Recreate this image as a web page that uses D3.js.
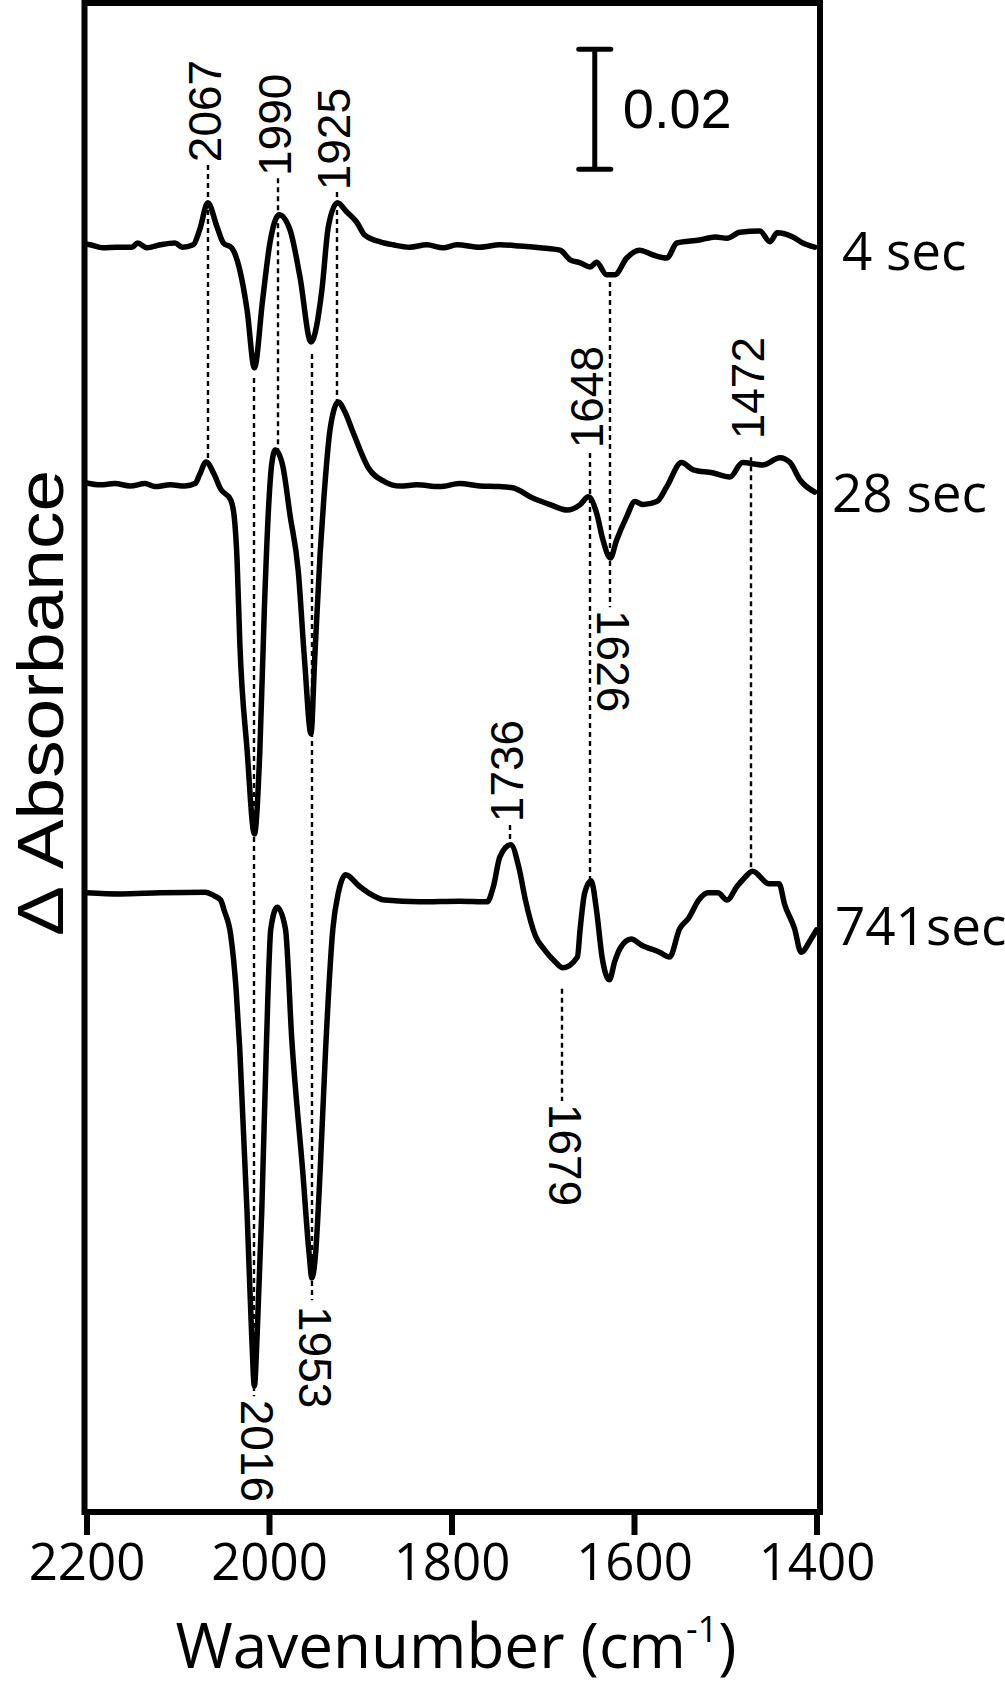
<!DOCTYPE html>
<html><head><meta charset="utf-8">
<script src="https://cdn.jsdelivr.net/npm/d3@7"></script>
<style>
html,body{margin:0;padding:0;background:#fff;}
svg{display:block;}
</style></head><body>
<svg id="chart" width="1005" height="1689"></svg>
<script>
// ---------- data ----------
const tickValues = [2200, 2000, 1800, 1600, 1400];
const seriesNames = ["4 sec", "28 sec", "741sec"];
const seriesOffsets = [0.108, 0.0682, 0];
const seriesLabelY = [0.104, 0.0637, -0.0085];

const wn4 = [2200,2196,2182,2167,2150,2144,2134,2119,2103,2095,2083,2076,2067,2057,2050,2041,2032,2024,2016,2007,1999,1989,1977,1966,1954,1942,1935,1925,1915,1904,1895,1878,1864,1846,1827,1809,1794,1769,1747,1725,1703,1681,1670,1659,1648,1641,1630,1621,1608,1594,1579,1564,1553,1528,1511,1498,1484,1462,1451,1443,1426,1415,1402];
const dA4 = [0.0003,0.0002,-0.0003,-0.0002,-0.0002,0.0005,-0.0003,0.0002,0.0005,-0.0002,0.0002,0.0027,0.0072,0.0032,0.0005,-0.0003,-0.004,-0.0107,-0.0203,-0.009,0.0005,0.0052,0.0027,-0.0052,-0.016,-0.0073,0.0032,0.0072,0.0057,0.004,0.0018,0.0007,0.0002,-0.0002,0.0002,-0.0003,0.0002,-0.0002,0.0002,0,-0.0003,-0.0007,-0.0023,-0.0028,-0.0035,-0.0027,-0.0048,-0.0048,-0.002,-0.0007,-0.0015,-0.002,0.0005,0.001,0.0015,0.0013,0.0023,0.0025,0.0007,0.0022,0.0015,0.0005,-0.0002];

const wn28 = [2200,2185,2169,2152,2136,2125,2108,2092,2081,2076,2069,2060,2053,2042,2038,2035,2032,2024,2016,2010,2005,2000,1997,1993,1985,1977,1968,1961,1954,1950,1944,1940,1933,1924,1917,1908,1891,1873,1856,1838,1813,1791,1769,1747,1733,1711,1692,1673,1659,1650,1641,1634,1626,1619,1608,1599,1590,1575,1564,1548,1535,1514,1495,1481,1459,1440,1429,1418,1402];
const dA28 = [0.0003,0,0.0002,-0.0002,0.0002,-0.0003,0,-0.0002,0.0002,0.0017,0.0038,0.0017,-0.0007,-0.0025,-0.0055,-0.0125,-0.0263,-0.0442,-0.0582,-0.0442,-0.0203,-0.0025,0.0035,0.0058,0.0032,-0.005,-0.0143,-0.0293,-0.0415,-0.0293,-0.0115,-0.0025,0.0093,0.0138,0.0122,0.0088,0.0028,0.0005,-0.0002,0,-0.0003,0.0002,-0.0002,-0.0003,-0.0005,-0.0022,-0.0033,-0.0042,-0.0033,-0.002,-0.0047,-0.0092,-0.0122,-0.0092,-0.0053,-0.0028,-0.0033,-0.0028,-0.0003,0.0037,0.0025,0.002,0.0013,0.0037,0.0033,0.0045,0.0037,0.0008,-0.0012];

const wn741 = [2200,2163,2119,2070,2060,2053,2049,2042,2036,2032,2024,2019,2016,2013,2008,2003,1998,1991,1982,1975,1963,1956,1953,1949,1944,1938,1930,1924,1916,1901,1891,1873,1835,1791,1761,1754,1747,1735,1726,1719,1708,1698,1687,1678,1662,1659,1654,1647,1641,1635,1627,1621,1615,1603,1592,1572,1561,1550,1540,1529,1519,1508,1498,1487,1480,1470,1452,1441,1435,1424,1417,1406,1400];
const dA741 = [0.0002,0,0.0002,0.0003,-0.0003,-0.001,-0.0028,-0.0068,-0.016,-0.026,-0.0532,-0.0735,-0.082,-0.0735,-0.0532,-0.026,-0.0058,-0.0022,-0.0058,-0.0243,-0.0463,-0.06,-0.064,-0.06,-0.0463,-0.026,-0.0058,0.0002,0.0032,0.0013,0.0002,-0.001,-0.0013,-0.0012,-0.0013,0.0013,0.0062,0.0082,0.0043,-0.001,-0.007,-0.0093,-0.0112,-0.0123,-0.0105,-0.0058,0.0002,0.0022,-0.0028,-0.0105,-0.0143,-0.0112,-0.009,-0.0075,-0.0085,-0.0097,-0.0105,-0.0058,-0.004,-0.001,0.0002,0.0002,-0.001,0.0013,0.0025,0.0038,0.0017,0.0017,-0.0017,-0.0058,-0.0097,-0.0075,-0.006];

// dashed peak markers (wavenumber, top and bottom in plotted absorbance units)
const markWn     = [2067, 1990, 1925, 2016, 1953, 1626, 1648, 1472, 1736, 1679];
const markTop    = [0.1215, 0.1193, 0.117, 0.086, 0.090, 0.102, 0.0735, 0.0728, 0.0115, -0.0158];
const markBottom = [0.072, 0.074, 0.082, -0.0837, -0.0677, 0.0478, 0.0022, 0.0038, 0.0082, -0.0345];

// peak labels
const labelText = ["2067", "1990", "1925", "1648", "1472", "1736", "1626", "1679", "1953", "2016"];
const labelWn   = [2067, 1990, 1925, 1648, 1472, 1736, 1626, 1679, 1953, 2016];
const labelY    = [0.1305, 0.1282, 0.1258, 0.0828, 0.0843, 0.0205, 0.0388, -0.0435, -0.0772, -0.0928];
const labelUp   = [true, true, true, true, true, true, false, false, false, false];

// scale bar
const scaleBarWn = 1643;
const scaleBarRange = [0.1208, 0.1408];
const scaleBarText = "0.02";

// ---------- drawing ----------
const svg = d3.select("#chart");
const x = d3.scaleLinear().domain([2200, 1400]).range([86.5, 816.5]);
const y = d3.scaleLinear().domain([-0.103, 0.1485]).range([1512, 3]);

const series = [
  {name: seriesNames[0], wn: wn4, v: dA4, off: seriesOffsets[0], ly: seriesLabelY[0]},
  {name: seriesNames[1], wn: wn28, v: dA28, off: seriesOffsets[1], ly: seriesLabelY[1]},
  {name: seriesNames[2], wn: wn741, v: dA741, off: seriesOffsets[2], ly: seriesLabelY[2]}
];

// dashed markers
svg.append("g").selectAll("line").data(markWn).join("line")
  .attr("x1", d => Math.round(x(d))).attr("x2", d => Math.round(x(d)))
  .attr("y1", (d, i) => y(markTop[i])).attr("y2", (d, i) => y(markBottom[i]))
  .attr("stroke", "#000").attr("stroke-width", 2.4).attr("stroke-dasharray", "5,4");

// traces
const line = d3.line().curve(d3.curveMonotoneX);
svg.append("g").selectAll("path").data(series).join("path")
  .attr("d", s => line(s.wn.map((w, i) => [x(w), y(s.v[i] + s.off)])))
  .attr("fill", "none").attr("stroke", "#000").attr("stroke-width", 5.5)
  .attr("stroke-linejoin", "round").attr("stroke-linecap", "round");

// series labels
svg.append("g").selectAll("text").data(series).join("text")
  .attr("x", (d, i) => [842, 832, 835][i])
  .attr("y", d => y(d.ly))
  .attr("font-family", "'Open Sans', sans-serif").attr("font-size", 53)
  .attr("fill", "#000")
  .text(d => d.name);

// peak labels
svg.append("g").selectAll("text").data(labelText).join("text")
  .attr("transform", (d, i) => {
    const px = x(labelWn[i]) + (labelUp[i] ? 13 : -13);
    return `translate(${px},${y(labelY[i])}) rotate(${labelUp[i] ? -90 : 90})`;
  })
  .attr("text-anchor", "middle")
  .attr("font-family", "'Liberation Sans', Arial, sans-serif").attr("font-size", 46)
  .attr("fill", "#000")
  .text(d => d);

// scale bar
const sb = svg.append("g").attr("stroke", "#000").attr("stroke-width", 5);
const sbx = x(scaleBarWn);
sb.append("line").attr("x1", sbx).attr("x2", sbx).attr("y1", y(scaleBarRange[0])).attr("y2", y(scaleBarRange[1]));
sb.append("line").attr("x1", sbx - 16).attr("x2", sbx + 16).attr("y1", y(scaleBarRange[0])).attr("y2", y(scaleBarRange[0])).attr("stroke-linecap", "round");
sb.append("line").attr("x1", sbx - 16).attr("x2", sbx + 16).attr("y1", y(scaleBarRange[1])).attr("y2", y(scaleBarRange[1])).attr("stroke-linecap", "round");
svg.append("text").attr("x", sbx + 28).attr("y", (y(scaleBarRange[0]) + y(scaleBarRange[1])) / 2 + 19)
  .attr("font-family", "'Liberation Sans', Arial, sans-serif").attr("font-size", 56)
  .text(scaleBarText);

// frame
svg.append("rect").attr("x", 84.5).attr("y", 3).attr("width", 820 - 84.5).attr("height", 1512 - 3)
  .attr("fill", "none").attr("stroke", "#000").attr("stroke-width", 6);

// x axis
const ax = svg.append("g").attr("transform", "translate(0,1512)")
  .call(d3.axisBottom(x).tickValues(tickValues).tickSize(23).tickSizeOuter(0).tickFormat(d3.format("d")));
ax.select(".domain").remove();
ax.selectAll(".tick line").attr("stroke", "#000").attr("stroke-width", 6);
ax.selectAll(".tick text").attr("y", 68).attr("dy", 0)
  .attr("font-family", "'Open Sans', sans-serif").attr("font-size", 51).attr("fill", "#000");

// axis titles
const xt = svg.append("text").attr("x", 456).attr("y", 1668).attr("text-anchor", "middle")
  .attr("font-family", "'Open Sans', sans-serif").attr("font-size", 62).attr("fill", "#000");
xt.append("tspan").text("Wavenumber (cm");
xt.append("tspan").attr("font-size", 36).attr("dy", -26).text("-1");
xt.append("tspan").attr("dy", 26).text(")");

svg.append("text").attr("transform", "translate(63,936) rotate(-90)")
  .attr("text-anchor", "start")
  .attr("font-family", "'Liberation Sans', Arial, sans-serif").attr("font-size", 64)
  .attr("textLength", 466).attr("lengthAdjust", "spacingAndGlyphs")
  .attr("fill", "#000")
  .text("\u0394 Absorbance");
</script>
</body></html>
